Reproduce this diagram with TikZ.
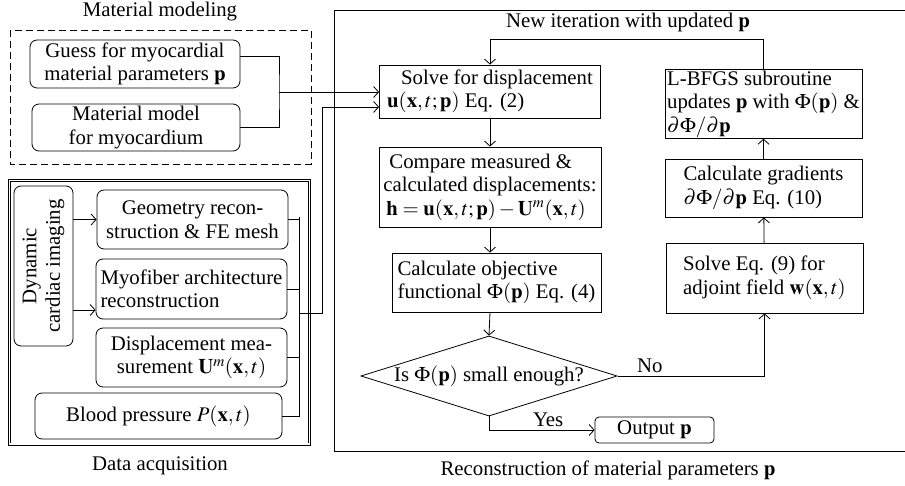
\documentclass[tikz,border=0pt]{standalone}
\usepackage{mathptmx}
\usepackage{fontspec}
\setmainfont{Liberation Serif}
\usepackage{tikz}
\usetikzlibrary{shapes.geometric,arrows.meta}

\begin{document}
\begin{tikzpicture}[x=1pt,y=-1pt,
    font=\fontsize{20.8}{23.5}\selectfont,
    line width=0.8pt,
    box/.style={draw,rectangle,inner sep=2pt},
    rbox/.style={draw,rectangle,rounded corners=7pt,inner sep=1pt},
    decision/.style={draw,diamond,aspect=3.2,inner sep=0pt},
    arr/.style={-{Straight Barb[length=5pt,width=11pt]}}]
\useasboundingbox (0,0) rectangle (905,486);
% Frames of the three parts
\draw[dash pattern=on 7pt off 4pt] (10,30) rectangle (311,164);
\draw[double,double distance=1.6pt,line width=0.7pt] (9.5,180.5) rectangle (309.5,444);
\draw (906,10) -- (334,10) -- (334,451) -- (906,451);
\node (tmat) at (160,12) {Material modeling};
\node (tdata) at (160,466) {Data acquisition};
\node (trec) at (608,470) {Reconstruction of material parameters $\mathbf{p}$};
% Material modeling
\node[rbox,minimum width=210,minimum height=48,align=center] (guess) at (135,64)
  {Guess for myocardial\\material parameters $\mathbf{p}$};
\node[rbox,minimum width=208,minimum height=47,align=center] (matmodel) at (136,127.5)
  {Material model\\for myocardium};
% Data acquisition
\node[rbox,rotate=90,minimum width=160,minimum height=59,align=center] (imaging) at (43.5,266)
  {Dynamic\\cardiac imaging};
\node[rbox,minimum width=191,minimum height=59,align=center] (geometry) at (192.5,219.5)
  {Geometry recon-\\struction \& FE mesh};
\node[rbox,minimum width=191,minimum height=60,align=left] (myofiber) at (191.5,289)
  {Myofiber architecture\\reconstruction};
\node[rbox,minimum width=191,minimum height=59,align=center] (displacement) at (191.5,357.5)
  {Displacement mea-\\surement $\mathbf{U}^m(\mathbf{x},t)$};
\node[rbox,minimum width=247,minimum height=46] (pressure) at (158.5,416)
  {Blood pressure $P(\mathbf{x},t)$};
% Reconstruction loop
\node[box,minimum width=221,minimum height=53,align=left] (solve) at (490,91.5)
  {\hspace*{14pt}Solve for displacement\\$\mathbf{u}(\mathbf{x},t;\mathbf{p})$ Eq. (2)};
\node[box,minimum width=222,minimum height=80,align=left] (compare) at (490,187)
  {\hspace*{6pt}Compare measured \&\\calculated displacements:\\\hspace*{3pt}$\mathbf{h}=\mathbf{u}(\mathbf{x},t;\mathbf{p})-\mathbf{U}^m(\mathbf{x},t)$};
\node[box,minimum width=209,minimum height=59,align=left] (objective) at (496.5,282.5)
  {Calculate objective\\functional $\Phi(\mathbf{p})$ Eq. (4)};
\node[decision] (check) at (489,376) {Is $\Phi(\mathbf{p})$ small enough?};
\node[rbox,minimum width=119,minimum height=26,rounded corners=4pt] (output) at (654.5,430)
  {Output $\mathbf{p}$};
\node[box,minimum width=197,minimum height=70,align=left] (adjoint) at (764.5,278)
  {Solve Eq. (9) for\\adjoint field $\mathbf{w}(\mathbf{x},t)$};
\node[box,minimum width=197,minimum height=58,align=left] (gradients) at (763.5,188)
  {Calculate gradients\\$\partial\Phi/\partial\mathbf{p}$ Eq. (10)};
\node[box,minimum width=197,minimum height=66,align=left,inner sep=1pt] (lbfgs) at (763.5,104)
  {L-BFGS subroutine\\updates $\mathbf{p}$ with $\Phi(\mathbf{p})$ \&\\$\partial\Phi/\partial\mathbf{p}$};
% Connectors of the material part
\coordinate (mjoin) at (279,92);
\draw ([yshift=8pt]guess.east) -| (mjoin) |- (matmodel.east);
\draw[arr] (mjoin) -- (mjoin -| solve.west);
% Connectors of the data part
\coordinate (dtop) at (299,217);
\coordinate (dbot) at (299,417);
\coordinate (dout) at (299,313);
\coordinate (dup) at (322,107);
\draw (dtop) -- (dbot);
\foreach \n in {geometry,myofiber,displacement,pressure}
  \draw (\n.east) -- (\n.east -| dtop);
\draw[arr] (dout) -| (dup) -- (dup -| solve.west);
\coordinate (mlow) at ([yshift=-21pt]myofiber.west);
\draw[arr] (imaging.south |- geometry.west) -- (geometry.west);
\draw[arr] (imaging.south |- mlow) -- (mlow);
% Connectors of the loop
\draw[arr] (solve) -- (compare);
\draw[arr] (compare.south) -- (compare.south |- objective.north);
\draw[arr] (compare.south |- objective.south) -- (check.north);
\draw[arr] (check.south) |- node[pos=0.78,above] (yes) {Yes} (output.west);
\draw[arr] (check.east) -| node[pos=0.11,above] (no) {No} (adjoint.south);
\draw[arr] (adjoint) -- (gradients);
\draw[arr] (gradients) -- (lbfgs);
\coordinate (looptop) at (763.5,39);
\draw[arr] (lbfgs.north) -- (looptop) -| (solve.north);
\node (iter) at (628,23) {New iteration with updated $\mathbf{p}$};
\end{tikzpicture}
\end{document}
